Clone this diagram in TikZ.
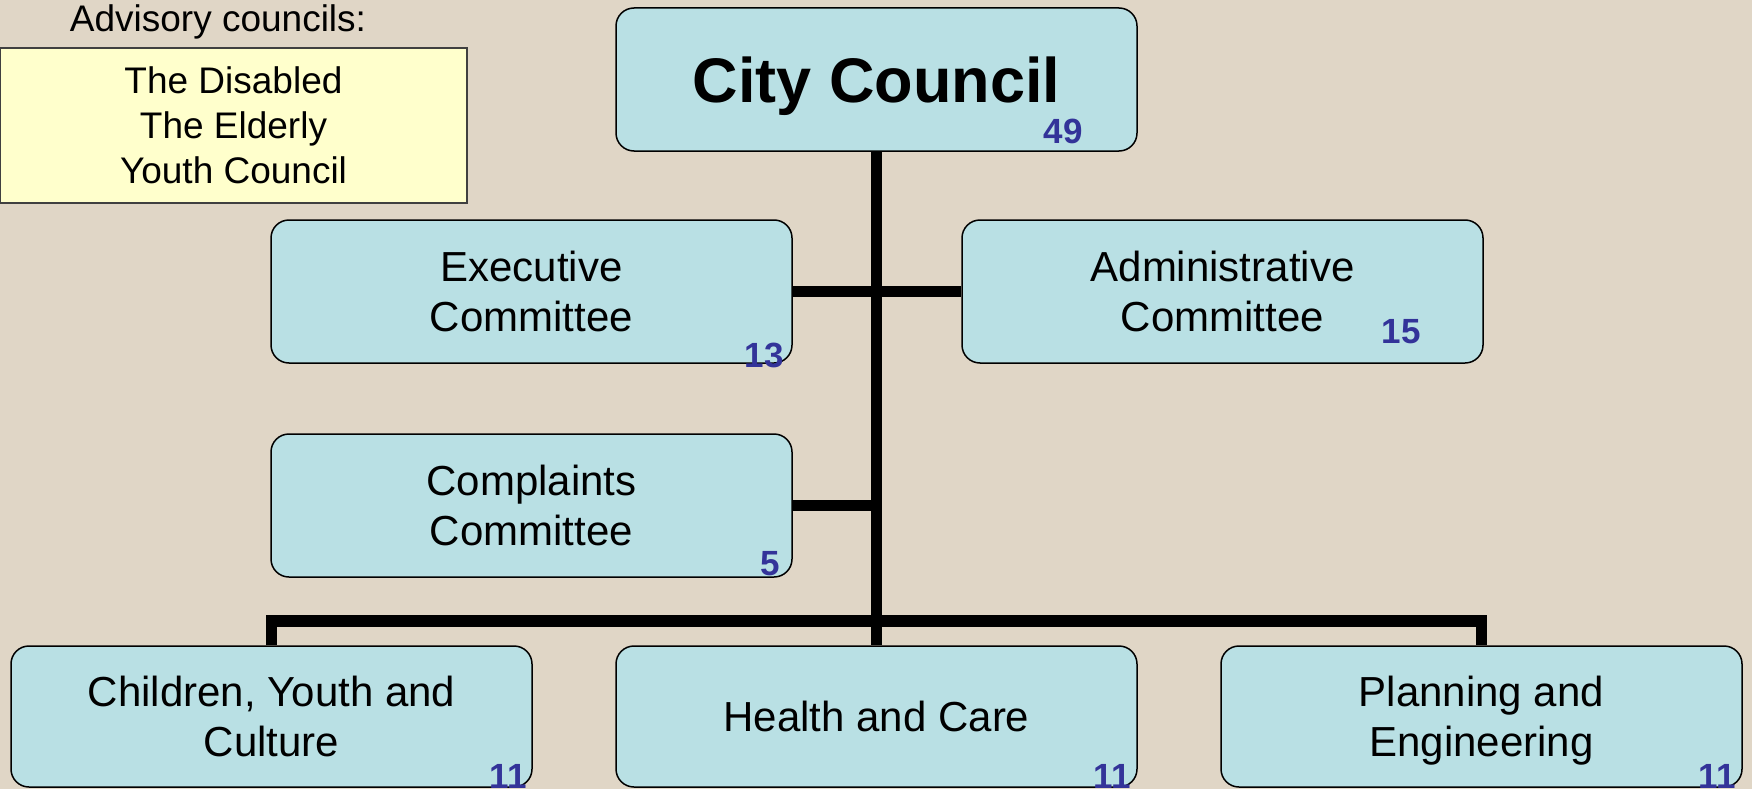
\documentclass[tikz,border=0pt]{standalone}
\usepackage{fontspec}
\setmainfont{Liberation Sans}
\usetikzlibrary{calc}
\definecolor{bg}{RGB}{224,214,198}
\definecolor{boxfill}{RGB}{185,224,228}
\definecolor{advfill}{RGB}{255,255,204}
\definecolor{numblue}{RGB}{51,51,153}
\newcommand{\nodepth}[1]{\raisebox{0pt}[\height][0pt]{#1}}
\begin{document}
\begin{tikzpicture}[x=1pt,y=-1pt,
  unit/.style={draw=black, line width=1.5pt, fill=boxfill, rounded corners=18pt,
    minimum width=521pt, minimum height=143pt, align=center,
    font=\fontsize{42}{50}\selectfont, inner sep=0pt},
  lowunit/.style={unit, minimum height=141pt},
  num/.style={text=numblue, font=\bfseries\fontsize{35}{35}\selectfont, inner sep=0pt},
  conn/.style={line width=11.5pt, line join=miter},
  advbox/.style={draw=black!75, line width=1.5pt, fill=advfill, minimum width=467pt,
    minimum height=155pt, inner sep=0pt, align=center, font=\fontsize{37}{45}\selectfont}
]
\fill[bg] (0,0) rectangle (1752,789);
\useasboundingbox (0,0) rectangle (1752,789);

% advisory councils
\node[font=\fontsize{37}{45}\selectfont, inner sep=0pt] (advlabel) at (218,22) {Advisory councils:};
\node[advbox] (adv) at (233.5,125.5) {The Disabled\\The Elderly\\Youth Council};

% committees
\coordinate (bus) at (876.5,621);
\node[unit, font=\bfseries\fontsize{63}{70}\selectfont] (city) at (876.5,79.5) {\nodepth{City Council}};
\node[unit] (exec) at (531.5,291.5) {Executive\\Committee};
\node[unit] (admin) at (1222.5,291.5) {Administrative\\Committee};
\node[unit] (comp) at (531.5,505.5) {Complaints\\Committee};
\node[lowunit] (child) at (271.5,716.5) {Children, Youth and\\Culture};
\node[lowunit] (health) at (876.5,716.5) {Health and Care};
\node[lowunit] (plan) at (1481.5,716.5) {Planning and\\\nodepth{Engineering}};

% connectors
\draw[conn] (city.south) -- (health.north);
\draw[conn] (exec.east) -- (admin.west);
\draw[conn] (comp.east) -- (comp.east -| city.south);
\draw[conn] (child.north) |- (bus) -| (plan.north);

% member counts
\node[num] (n49) at (1063,131) {49};
\node[num] (n13) at (764,355) {13};
\node[num] (n15) at (1401,332) {15};
\node[num] (n5) at (770,564) {5};
\node[num] (n11a) at (508,776) {11};
\node[num] (n11b) at (1112,776) {11};
\node[num] (n11c) at (1717,776) {11};
\end{tikzpicture}
\end{document}
